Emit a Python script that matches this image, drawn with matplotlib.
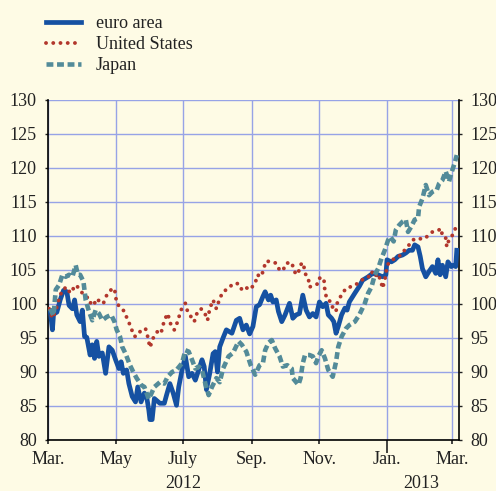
import matplotlib
matplotlib.use("Agg")
import matplotlib.pyplot as plt
import matplotlib.transforms as mtransforms
import pandas as pd

START = pd.Timestamp("2012-03-01")

# days since 1 March 2012, index values
euro_days = [2, 4, 5, 8, 11, 14, 17, 19, 22, 24, 26, 29, 31, 33, 35, 38, 40, 42, 44, 46,
             49, 52, 55, 58, 61, 64, 66, 68, 71, 73, 76, 79, 81, 84, 87, 89, 91, 92, 94, 96,
             101, 105, 107, 110, 113, 116, 118, 121, 124, 127, 130, 133, 136, 139, 141, 143,
             146, 149, 151, 153, 155, 158, 161, 166, 170, 173, 176, 179, 182, 185, 188, 191,
             194, 196, 199, 201, 203, 206, 208, 211, 214, 218, 221, 224, 227, 230, 233, 236,
             239, 242, 245, 248, 251, 253, 256, 258, 260, 262, 265, 268, 270, 272, 277, 281,
             284, 289, 293, 298, 302, 305, 306, 310, 313, 316, 320, 323, 326, 329, 331, 334,
             336, 338, 341, 344, 347, 350, 352, 354, 356, 359, 361, 364, 366, 368, 369]
euro_vals = [99.0, 96.2, 98.5, 98.8, 100.6, 102.0, 101.8, 99.8, 99.3, 100.6, 98.4, 97.4, 99.1,
             95.2, 95.1, 92.5, 94.0, 92.0, 94.5, 92.3, 92.8, 89.8, 93.7, 93.2, 91.8, 90.5, 91.5,
             89.8, 90.3, 88.3, 86.4, 85.6, 87.8, 85.6, 86.9, 86.4, 84.4, 83.0, 83.0, 86.1,
             85.4, 85.4, 86.6, 88.3, 86.9, 85.1, 87.8, 90.3, 92.3, 89.3, 89.8, 88.8, 90.3, 91.8,
             90.8, 87.4, 89.8, 92.7, 93.0, 90.0, 93.7, 95.0, 96.2, 95.7, 97.6, 97.9, 96.2, 96.9,
             95.6, 96.7, 99.6, 99.9, 101.1, 101.8, 100.6, 101.3, 100.3, 100.6, 98.9, 97.4, 98.4,
             100.1, 97.9, 98.4, 98.6, 101.3, 99.1, 98.1, 98.6, 98.1, 100.3, 99.6, 100.1, 98.4,
             97.9, 97.4, 95.7, 96.7, 98.4, 99.4, 99.1, 100.3, 101.6, 102.6, 103.5, 104.0, 104.5,
             104.3, 104.0, 104.3, 106.5, 106.2, 106.5, 107.0, 107.2, 107.5, 107.9, 107.9, 108.7,
             108.4, 107.0, 105.2, 104.0, 104.8, 105.5, 104.5, 106.5, 104.3, 105.7, 104.0, 106.2,
             105.5, 105.7, 105.5, 107.9]

us_days = [1, 4, 7, 10, 13, 17, 20, 23, 25, 28, 31, 35, 38, 41, 43, 46, 50, 53, 57, 60, 62,
           66, 69, 72, 75, 77, 79, 84, 88, 90, 92, 95, 99, 102, 105, 108, 111, 114, 117, 120,
           124, 126, 130, 132, 135, 138, 141, 144, 146, 149, 152, 155, 158, 163, 167, 172,
           175, 178, 182, 187, 189, 192, 195, 196, 200, 206, 209, 212, 215, 220, 222, 224,
           227, 229, 231, 232, 235, 236, 241, 244, 245, 249, 250, 252, 256, 257, 260, 261,
           263, 266, 269, 272, 275, 280, 284, 289, 292, 295, 298, 301, 302, 304, 306, 308,
           311, 316, 319, 323, 326, 329, 334, 338, 343, 347, 352, 355, 356, 359, 360, 362,
           365, 368]
us_vals = [99.3, 97.9, 99.0, 100.8, 102.1, 102.5, 101.6, 102.3, 102.8, 102.3, 101.6, 101.1,
           100.1, 100.6, 99.9, 100.6, 100.1, 101.3, 102.1, 102.3, 100.1, 99.4, 98.9, 97.6, 96.6,
           95.4, 95.2, 96.1, 96.4, 95.2, 93.6, 95.0, 96.0, 95.7, 97.6, 98.6, 96.9, 96.2, 97.4,
           99.1, 100.1, 98.9, 97.9, 97.4, 98.9, 99.3, 98.9, 97.6, 99.3, 100.6, 99.3, 100.8,
           101.8, 102.3, 103.0, 103.0, 102.1, 102.5, 102.1, 103.0, 104.3, 104.0, 105.1, 106.2,
           106.3, 106.0, 105.0, 104.9, 106.0, 106.1, 105.0, 104.3, 105.0, 106.1, 105.5, 104.5,
           103.8, 102.5, 102.8, 103.0, 103.8, 103.8, 101.8, 100.6, 100.3, 99.4, 98.9, 100.1,
           100.8, 101.6, 102.3, 102.4, 102.8, 103.0, 103.6, 103.9, 104.8, 104.0, 104.5, 103.0,
           102.3, 103.5, 105.5, 106.2, 106.5, 107.0, 107.2, 108.2, 108.7, 109.4, 109.7, 109.5,
           110.0, 110.6, 110.8, 111.1, 109.9, 109.7, 108.4, 109.5, 110.1, 111.2]

japan_days = [2, 5, 7, 10, 13, 16, 19, 22, 25, 27, 29, 32, 34, 37, 40, 43, 46, 49, 53, 57,
              60, 62, 65, 67, 70, 74, 77, 80, 84, 87, 91, 96, 101, 105, 108, 112, 116, 121,
              124, 127, 130, 133, 136, 139, 142, 145, 148, 152, 155, 158, 163, 167, 172, 175,
              179, 183, 187, 191, 194, 196, 199, 202, 205, 209, 212, 216, 220, 221, 226, 228,
              230, 232, 236, 239, 242, 244, 247, 250, 253, 257, 260, 262, 265, 269, 272, 277,
              281, 286, 289, 292, 295, 298, 301, 304, 307, 309, 312, 314, 317, 320, 323, 325,
              328, 331, 334, 335, 338, 341, 344, 347, 351, 353, 356, 359, 362, 364, 367, 369]
japan_vals = [99.3, 98.3, 102.1, 102.8, 104.3, 104.0, 104.3, 104.0, 105.7, 104.3, 104.3,
              103.3, 100.6, 98.9, 97.6, 99.1, 98.6, 97.6, 98.1, 98.4, 97.4, 96.2, 95.2, 93.7,
              92.7, 91.0, 90.0, 89.1, 88.1, 87.8, 86.0, 87.8, 88.5, 88.3, 89.3, 90.0, 90.3,
              91.3, 93.2, 93.0, 91.8, 90.5, 90.8, 90.3, 88.3, 86.6, 87.8, 89.1, 88.5, 90.5,
              92.3, 92.8, 94.5, 94.0, 93.0, 91.0, 89.6, 91.0, 91.3, 93.2, 94.3, 94.7, 93.5,
              92.3, 90.8, 91.0, 90.5, 89.1, 88.1, 89.1, 91.3, 92.5, 92.5, 92.3, 91.3, 92.3,
              93.2, 92.0, 90.3, 89.3, 91.5, 93.7, 95.2, 96.4, 96.9, 97.4, 98.4, 100.1, 101.6,
              102.5, 104.3, 105.2, 106.7, 107.9, 109.4, 109.9, 109.2, 110.9, 111.6, 112.1,
              112.4, 110.6, 111.4, 112.4, 112.6, 114.3, 115.5, 117.5, 116.0, 116.5, 116.8,
              117.7, 118.2, 119.5, 118.0, 119.2, 120.7, 121.9]

series_names = ["euro area", "United States", "Japan"]
month_ticks = ["2012-03-01", "2012-05-01", "2012-07-01", "2012-09-01", "2012-11-01",
               "2013-01-01", "2013-03-01"]
month_labels = ["Mar.", "May", "July", "Sep.", "Nov.", "Jan.", "Mar."]
year_labels = ["2012", "2013"]
year_pos = ["2012-07-01", "2013-02-01"]
y_ticks = [80, 85, 90, 95, 100, 105, 110, 115, 120, 125, 130]


def to_dates(days):
    return START + pd.to_timedelta(days, unit="D")


BG = "#FEFBE5"
GRID = "#97A3E6"
C_EURO = "#1551A2"
C_US = "#B2372C"
C_JP = "#538B99"

plt.rcParams["font.family"] = ["Liberation Serif", "DejaVu Serif"]
plt.rcParams["font.size"] = 13

fig = plt.figure(figsize=(4.96, 4.91), dpi=100, facecolor=BG)
ax = fig.add_axes([48 / 496, 1 - 440 / 491, (459 - 48) / 496, 340 / 491])
ax.set_facecolor(BG)

l1, = ax.plot(to_dates(euro_days), euro_vals, color=C_EURO, lw=3.4,
              solid_joinstyle="round", label=series_names[0], zorder=3)
l2, = ax.plot(to_dates(us_days), us_vals, color=C_US, lw=2.8,
              linestyle=(0, (0.01, 1.85)), dash_capstyle="round",
              label=series_names[1], zorder=4)
l3, = ax.plot(to_dates(japan_days), japan_vals, color=C_JP, lw=3.3,
              linestyle=(0, (1.5, 0.8)), dash_capstyle="butt",
              label=series_names[2], zorder=5)

ax.set_ylim(80, 130)
ax.set_xlim(pd.Timestamp("2012-03-01"), pd.Timestamp("2013-03-07"))
ax.set_yticks(y_ticks)
ax.set_xticks(pd.to_datetime(month_ticks))
ax.set_xticklabels(month_labels)
ax.grid(True, color=GRID, lw=1.0, zorder=0)
ax.set_axisbelow(True)

ax.spines["top"].set_visible(False)
for s in ["left", "right", "bottom"]:
    ax.spines[s].set_color("black")
    ax.spines[s].set_linewidth(1.2)

ax.tick_params(axis="y", which="both", left=True, right=True, labelleft=True,
               labelright=True, direction="out", length=2, width=1, pad=6,
               colors="#222222")
ax.tick_params(axis="x", direction="out", length=3, width=1.2, pad=5, colors="#222222")
ax.xaxis.get_major_ticks()[5].tick1line.set_markersize(9)

trans = mtransforms.blended_transform_factory(ax.transData, ax.transAxes)
for lab, pos in zip(year_labels, year_pos):
    ax.text(pd.Timestamp(pos), -0.128, lab, transform=trans, ha="center", va="center",
            fontsize=13, color="#222222")

leg = ax.legend(handles=[l1, l2, l3], loc="upper left",
                bbox_to_anchor=(46 / 496, 1 - 15 / 491), bbox_transform=fig.transFigure,
                frameon=False, borderpad=0, borderaxespad=0, handlelength=1.95,
                handletextpad=0.8, labelspacing=0.22, fontsize=13)
for t in leg.get_texts():
    t.set_color("#222222")

fig.savefig("out.png", dpi=100, facecolor=BG)
